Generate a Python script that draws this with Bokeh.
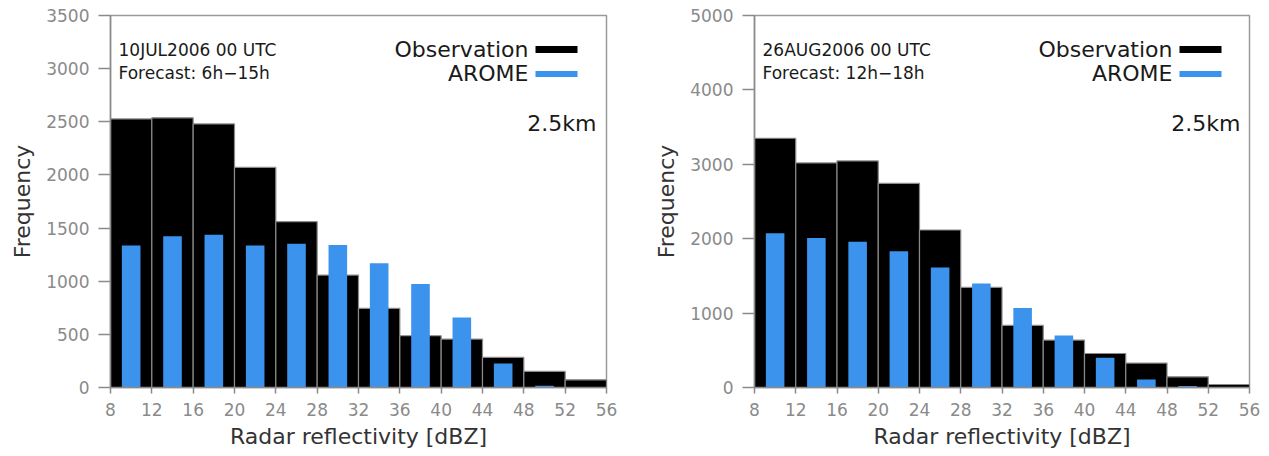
from bokeh.plotting import figure
from bokeh.layouts import row
from bokeh.models import Label, BoxAnnotation, FixedTicker, Range1d
from bokeh.embed import file_html
from bokeh.resources import INLINE

# ---- data ----
bin_centers = [10, 14, 18, 22, 26, 30, 34, 38, 42, 46, 50, 54]
x_ticks = [8, 12, 16, 20, 24, 28, 32, 36, 40, 44, 48, 52, 56]

obs_jul = [2527, 2537, 2480, 2071, 1560, 1058, 744, 487, 456, 283, 151, 72]
arome_jul = [1337, 1422, 1438, 1337, 1353, 1341, 1168, 974, 659, 226, 16, 0]
yticks_jul = [0, 500, 1000, 1500, 2000, 2500, 3000, 3500]

obs_aug = [3350, 3018, 3045, 2744, 2117, 1345, 834, 637, 457, 328, 144, 40]
arome_aug = [2072, 2009, 1960, 1830, 1614, 1399, 1068, 700, 400, 108, 20, 0]
yticks_aug = [0, 1000, 2000, 3000, 4000, 5000]

titles_jul = ["10JUL2006 00 UTC", "Forecast: 6h\u221215h"]
titles_aug = ["26AUG2006 00 UTC", "Forecast: 12h\u221218h"]
series_names = ["Observation", "AROME"]
resolution = "2.5km"

FONT = "DejaVu Sans"
BLUE = "#3b93ee"


def make_panel(obs, arome, yticks, titles, width, border_left, border_right):
    p = figure(width=width, height=454, output_backend="svg", toolbar_location=None,
               x_range=Range1d(8, 56), y_range=Range1d(0, yticks[-1]),
               min_border_left=border_left, min_border_right=border_right,
               min_border_top=15, min_border_bottom=67)
    p.grid.visible = False
    p.outline_line_color = "#9a9a9a"
    p.outline_line_width = 1.5

    p.vbar(x=bin_centers, top=obs, width=4, bottom=0, fill_color="black",
           line_color="#8a8a8a", line_width=1.2)
    p.vbar(x=bin_centers, top=arome, width=1.8, bottom=0, fill_color=BLUE,
           line_color=None)

    p.xaxis.ticker = FixedTicker(ticks=x_ticks)
    p.yaxis.ticker = FixedTicker(ticks=yticks)
    for ax in (p.xaxis[0], p.yaxis[0]):
        ax.axis_line_color = "#8a8a8a"
        ax.axis_line_width = 1.5
        ax.major_tick_line_color = "#8a8a8a"
        ax.major_tick_line_width = 1.5
        ax.minor_tick_line_color = None
        ax.major_tick_in = 0
        ax.major_label_text_color = "#8a8a8a"
        ax.major_label_text_font = FONT
        ax.major_label_text_font_size = "17px"
        ax.axis_label_text_font = FONT
        ax.axis_label_text_font_style = "normal"
        ax.axis_label_text_font_size = "22px"
        ax.axis_label_text_color = "#333333"
    p.xaxis.major_tick_out = 6
    p.xaxis.major_label_standoff = 9
    p.xaxis.axis_label_standoff = 5
    p.yaxis.major_tick_out = 12
    p.yaxis.major_label_standoff = 9
    p.yaxis.axis_label_standoff = 8
    p.xaxis.axis_label = "Radar reflectivity [dBZ]"
    p.yaxis.axis_label = "Frequency"

    common = dict(x_units="screen", y_units="screen", text_font=FONT,
                  text_baseline="middle", text_color="#1a1a1a")
    p.add_layout(Label(x=8, y=338, text=titles[0], text_font_size="17px", **common))
    p.add_layout(Label(x=8, y=315, text=titles[1], text_font_size="17px", **common))
    p.add_layout(Label(x=418, y=338, text=series_names[0], text_font_size="22px",
                       text_align="right", **common))
    p.add_layout(Label(x=418, y=314, text=series_names[1], text_font_size="22px",
                       text_align="right", **common))
    p.add_layout(Label(x=486, y=264, text=resolution, text_font_size="22px",
                       text_align="right", **common))
    p.add_layout(BoxAnnotation(left=425, right=467, bottom=334.5, top=341.5,
                               left_units="screen", right_units="screen",
                               bottom_units="screen", top_units="screen",
                               fill_color="black", fill_alpha=1, line_color=None))
    p.add_layout(BoxAnnotation(left=425, right=467, bottom=310.5, top=316.5,
                               left_units="screen", right_units="screen",
                               bottom_units="screen", top_units="screen",
                               fill_color=BLUE, fill_alpha=1, line_color=None))
    return p


p1 = make_panel(obs_jul, arome_jul, yticks_jul, titles_jul, 651, 110, 45)
p2 = make_panel(obs_aug, arome_aug, yticks_aug, titles_aug, 610, 102, 12)

layout = row(p1, p2)
open("out.html", "w").write(file_html(layout, INLINE))
